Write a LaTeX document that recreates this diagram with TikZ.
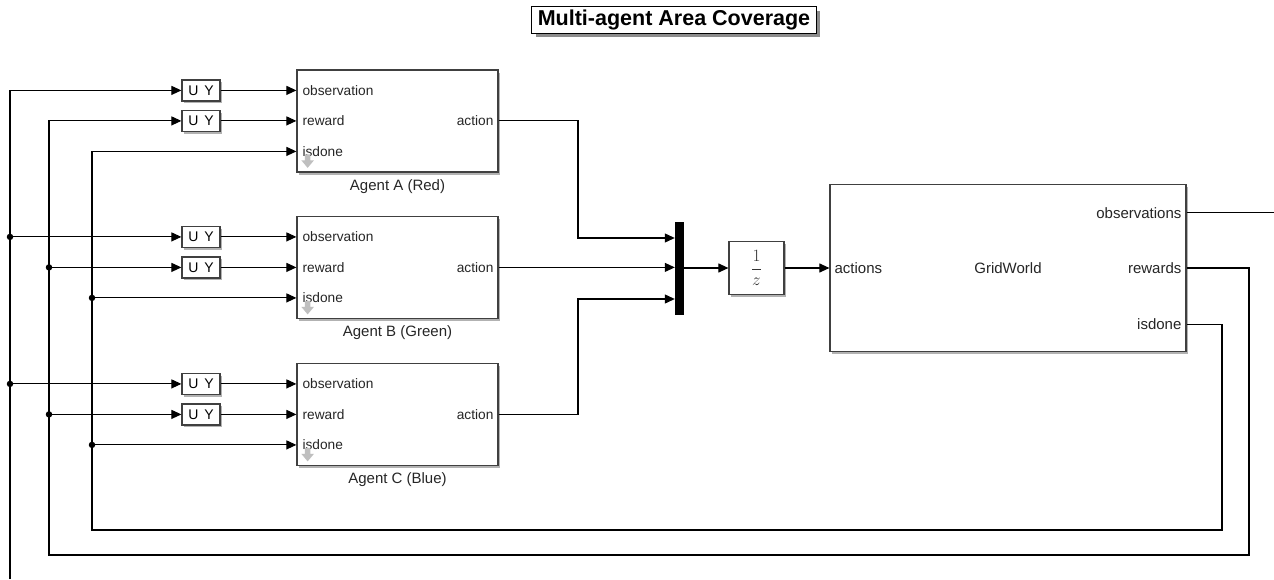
\documentclass[tikz,border=0pt]{standalone}
\usepackage{fontspec}
\setmainfont{Liberation Sans}
\usetikzlibrary{arrows.meta,shadows,calc}
\begin{document}
\begin{tikzpicture}[x=1pt,y=-1pt,
  wire/.style={line width=1.1pt,draw=black},
  arr/.style={wire,-{Triangle[length=10pt,width=9pt]}},
  blk/.style={draw=black!75,line width=1.2pt,fill=white,
    drop shadow={shadow xshift=2pt,shadow yshift=-2.5pt,opacity=0.3,fill=black}},
  uybox/.style={blk,minimum width=38pt,minimum height=21pt,inner sep=0pt,
    font=\fontsize{14}{14}\selectfont},
  agentbox/.style={blk,minimum width=201pt,minimum height=102pt,inner sep=0pt},
  plbl/.style={inner sep=0pt,font=\fontsize{13.7}{13.7}\selectfont,text=black!85},
  glbl/.style={inner sep=0pt,font=\fontsize{15}{15}\selectfont,text=black!85},
  junc/.style={circle,fill=black,inner sep=0pt,minimum size=6.5pt},
  rst/.style={fill=black!25,draw=none}
]
\useasboundingbox (0,0) rectangle (1274,579);

% title
\node[draw=black,line width=1.2pt,fill=white,inner xsep=6pt,minimum height=26pt,
  font=\fontsize{21.5}{21.5}\selectfont\bfseries,
  drop shadow={shadow xshift=4pt,shadow yshift=-4pt,opacity=0.45,fill=black}]
  (title) at (674,20) {Multi-agent Area Coverage};

% agents
\foreach \n/\yy/\lab in {A/121/Agent A (Red),B/267.5/Agent B (Green),C/414.5/Agent C (Blue)}{
  \node[agentbox] (agent\n) at (397.5,\yy) {};
  \node[plbl,anchor=west] at ($(agent\n.north west)+(6,21)$) {observation};
  \node[plbl,anchor=west] at ($(agent\n.north west)+(6,51.5)$) {reward};
  \node[plbl,anchor=west] at ($(agent\n.north west)+(6,82)$) {isdone};
  \node[plbl,anchor=east] (act\n) at ($(agent\n.north east)+(-5,51.5)$) {action};
  \node[glbl] (lab\n) at ($(agent\n.south)+(0,14)$) {\lab};
  \fill[rst] ($(agent\n.north west)+(8.5,85)$) -- ++(5.5,0) -- ++(0,6) -- ++(3.5,0)
     -- ++(-6.25,7.5) -- ++(-6.25,-7.5) -- ++(3.5,0) -- cycle;
  \coordinate (obs\n) at ($(agent\n.north west)+(0,21)$);
  \coordinate (rew\n) at ($(agent\n.north west)+(0,51.5)$);
  \coordinate (done\n) at ($(agent\n.north west)+(0,82)$);
  \coordinate (out\n) at ($(agent\n.north east)+(0,51.5)$);
  \node[uybox] (uy\n1) at (obs\n -| 201,0) {U\hspace{6pt}Y};
  \node[uybox] (uy\n2) at (rew\n -| 201,0) {U\hspace{6pt}Y};
  \draw[arr] (uy\n1.east) -- (obs\n);
  \draw[arr] (uy\n2.east) -- (rew\n);
}

% mux, delay, gridworld
\node[fill=black,minimum width=9pt,minimum height=93pt,inner sep=0pt] (mux) at (679.5,268.5) {};
\node[blk,minimum width=55pt,minimum height=53pt,inner sep=0pt,
  font=\fontsize{16}{16}\selectfont,text=black!80] (delay) at (756.5,268) {$\displaystyle\frac{1}{z}$};
\node[blk,minimum width=356pt,minimum height=167pt,inner sep=0pt] (gw) at (1008,268) {};
\node[glbl] at (gw.center) {GridWorld};
\node[glbl,anchor=west] at ($(gw.west)+(5,0)$) {actions};
\coordinate (gwObs) at ($(gw.north east)+(0,29)$);
\coordinate (gwRew) at (gw.east);
\coordinate (gwDone) at ($(gw.south east)+(0,-28)$);
\node[glbl,anchor=east] at ($(gwObs)+(-5,0)$) {observations};
\node[glbl,anchor=east] at ($(gwRew)+(-5,0)$) {rewards};
\node[glbl,anchor=east] at ($(gwDone)+(-5,0)$) {isdone};

% action wires to mux
\coordinate (bendA) at (578,238);
\coordinate (bendC) at (578,299);
\draw[arr] (outA) -| (bendA) -- (mux.west |- bendA);
\draw[arr] (outB) -- (mux.west |- outB);
\draw[arr] (outC) -| (bendC) -- (mux.west |- bendC);
\draw[arr] (mux.east |- delay.west) -- (delay.west);
\draw[arr] (delay.east) -- (gw.west);

% observations out
\coordinate (obsOut) at (1274,213);
\draw[wire] (gwObs) -- (obsOut |- gwObs);

% observation feedback (left)
\coordinate (obsIn) at (10,579);
\draw[arr] (obsIn) |- (uyA1.west);
\node[junc] (jB1) at (obsIn |- uyB1) {};
\node[junc] (jC1) at (obsIn |- uyC1) {};
\draw[arr] (jB1) -- (uyB1.west);
\draw[arr] (jC1) -- (uyC1.west);

% rewards feedback
\coordinate (rwR) at (1249,555);
\coordinate (rwL) at (49,555);
\draw[arr] (gwRew) -| (rwR) -- (rwL) |- (uyA2.west);
\node[junc] (jB2) at (rwL |- uyB2) {};
\node[junc] (jC2) at (rwL |- uyC2) {};
\draw[arr] (jB2) -- (uyB2.west);
\draw[arr] (jC2) -- (uyC2.west);

% isdone feedback
\coordinate (idR) at (1222,530);
\coordinate (idL) at (92,530);
\draw[arr] (gwDone) -| (idR) -- (idL) |- (doneA);
\node[junc] (jB3) at (idL |- doneB) {};
\node[junc] (jC3) at (idL |- doneC) {};
\draw[arr] (jB3) -- (doneB);
\draw[arr] (jC3) -- (doneC);
\end{tikzpicture}
\end{document}
